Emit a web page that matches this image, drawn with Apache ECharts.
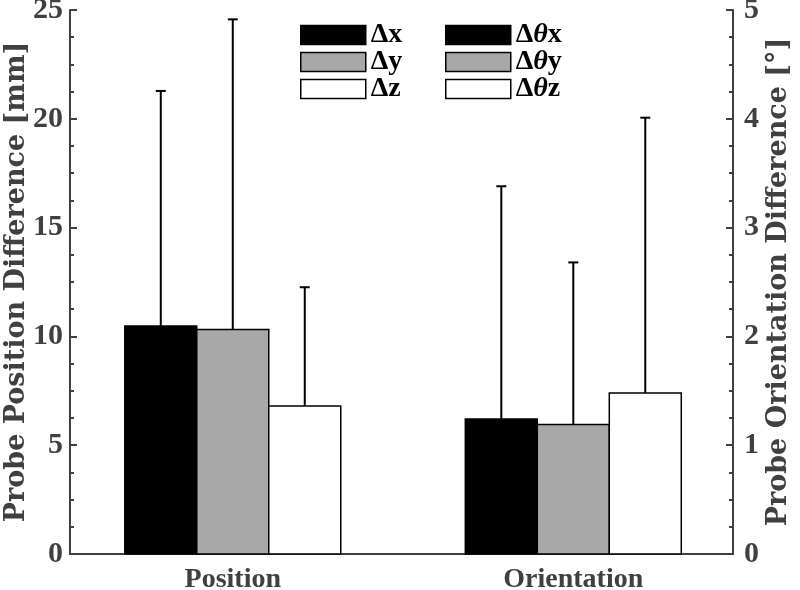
<!DOCTYPE html>
<html><head><meta charset="utf-8">
<script src="https://cdn.jsdelivr.net/npm/echarts@6/dist/echarts.min.js"></script>
<style>html,body{margin:0;padding:0;background:#fff}#c{width:800px;height:590px}</style>
</head><body><div id="c"></div>
<script>
const categories = ['Position', 'Orientation'];
const positionNames = ['Δx', 'Δy', 'Δz'];
const orientationNames = ['Δθx', 'Δθy', 'Δθz'];
const positionMeans = [10.48, 10.32, 6.80];
const positionUpper = [21.28, 24.57, 12.26];
const orientationMeans = [1.24, 1.19, 1.48];
const orientationUpper = [3.38, 2.68, 4.01];
const leftTicks = [0, 5, 10, 15, 20, 25];
const rightTicks = [0, 1, 2, 3, 4, 5];
const fills = ['#000000', '#a8a8a8', '#ffffff'];

const BAR_W = 0.2114;
const AX = '#404040';
const FONT = 'Liberation Serif';
const TITLE_FONT = 'DejaVu Serif';

function makeSeries(name, catIdx, slot, mean, upper, yAxisIndex, color) {
  return {
    type: 'custom', name: name, xAxisIndex: 0, yAxisIndex: yAxisIndex,
    itemStyle: { color: color, borderColor: '#000', borderWidth: 1.5 },
    encode: { x: 0, y: [1, 2] },
    data: [[catIdx + 1 + (slot - 1) * BAR_W, mean, upper]],
    renderItem: function (params, api) {
      const x = api.value(0), m = api.value(1), u = api.value(2);
      const p0 = api.coord([x - BAR_W / 2, 0]);
      const p1 = api.coord([x + BAR_W / 2, m]);
      const pu = api.coord([x, u]);
      const pm = api.coord([x, m]);
      return { type: 'group', children: [
        { type: 'rect', shape: { x: p0[0], y: p1[1], width: p1[0] - p0[0], height: p0[1] - p1[1] },
          style: { fill: color, stroke: '#000', lineWidth: 1.5 } },
        { type: 'line', shape: { x1: pm[0], y1: pm[1], x2: pu[0], y2: pu[1] },
          style: { stroke: '#000', lineWidth: 2 } },
        { type: 'line', shape: { x1: pu[0] - 5, y1: pu[1], x2: pu[0] + 5, y2: pu[1] },
          style: { stroke: '#000', lineWidth: 2 } }
      ] };
    }
  };
}

const series = [];
positionNames.forEach((n, i) => series.push(makeSeries(n, 0, i, positionMeans[i], positionUpper[i], 0, fills[i])));
orientationNames.forEach((n, i) => series.push(makeSeries(n, 1, i, orientationMeans[i], orientationUpper[i], 1, fills[i])));

const legendText = {
  fontFamily: FONT, fontWeight: 'bold', fontSize: 28, color: '#000', lineHeight: 19, height: 19,
  rich: { i: { fontFamily: FONT, fontWeight: 'bold', fontStyle: 'italic', fontSize: 28, color: '#000', lineHeight: 19 } }
};
function legendCfg(names, left) {
  return {
    data: names, left: left, top: 21, orient: 'vertical', icon: 'rect',
    itemWidth: 65, itemHeight: 19, itemGap: -1, padding: 0,
    itemStyle: { borderColor: '#000', borderWidth: 1.5 },
    textStyle: legendText,
    formatter: function (name) { return name.replace('θ', '{i|θ}'); }
  };
}

function yAxisCfg(ticks, name, pos, gap, margin) {
  return {
    type: 'value', position: pos, min: ticks[0], max: ticks[ticks.length - 1],
    interval: ticks[1] - ticks[0],
    name: name, nameLocation: 'middle', nameRotate: 90, nameGap: gap, nameMoveOverlap: false,
    nameTextStyle: { fontFamily: TITLE_FONT, fontWeight: 'bold', fontSize: 27, color: AX },
    axisLine: { show: true, lineStyle: { color: AX, width: 2 } },
    axisTick: { show: true, inside: true, length: 7, lineStyle: { color: AX, width: 2 } },
    minorTick: { show: true, splitNumber: 4, length: 4, lineStyle: { color: AX, width: 2 } },
    splitLine: { show: false },
    axisLabel: { fontFamily: FONT, fontWeight: 'bold', fontSize: 30, color: AX, margin: margin }
  };
}

const chart = echarts.init(document.getElementById('c'));
chart.setOption({
  animation: false,
  backgroundColor: '#fff',
  grid: { left: 70, right: 67, top: 10, bottom: 36, containLabel: false, outerBoundsMode: 'none' },
  legend: [legendCfg(positionNames, 300), legendCfg(orientationNames, 445)],
  xAxis: {
    type: 'value', min: 0.522, max: 2.469,
    axisLine: { show: true, onZero: false, lineStyle: { color: AX, width: 2 } },
    axisTick: { show: false },
    splitLine: { show: false },
    axisLabel: {
      customValues: [1, 2],
      formatter: function (v) { return categories[Math.round(v) - 1] || ''; },
      fontFamily: FONT, fontWeight: 'bold', fontSize: 28, color: AX, margin: 12
    }
  },
  yAxis: [
    yAxisCfg(leftTicks, 'Probe Position Difference [mm]', 'left', 40, 7),
    yAxisCfg(rightTicks, 'Probe Orientation Difference [°]', 'right', 32, 11)
  ],
  series: series
});
</script>
</body></html>
